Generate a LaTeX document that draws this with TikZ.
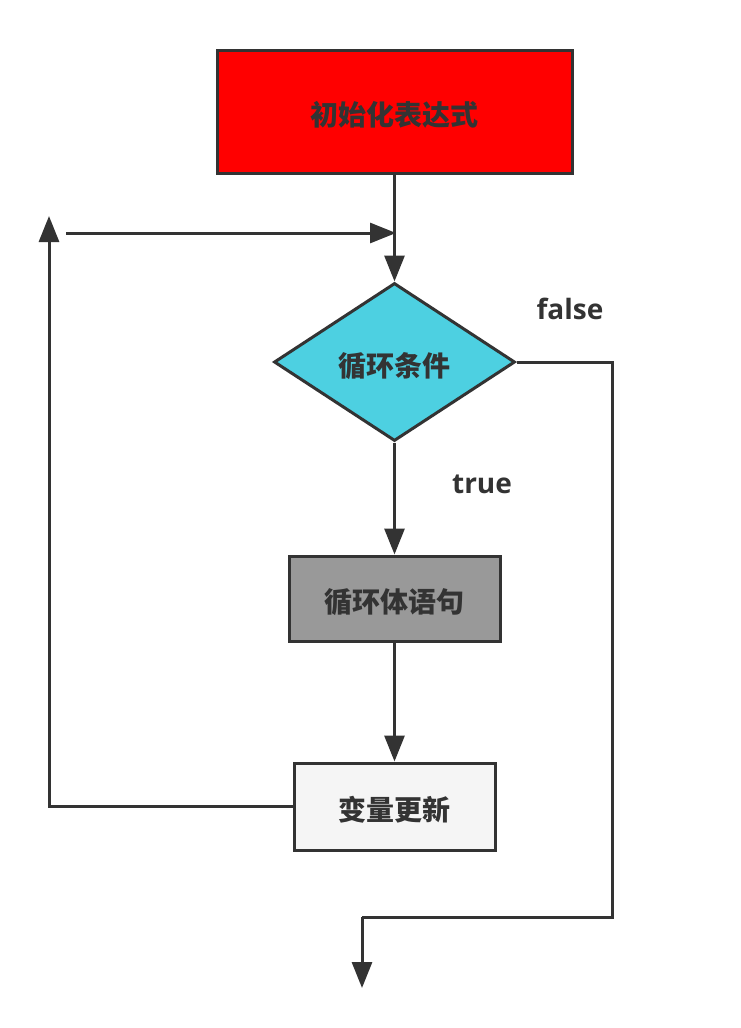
\documentclass[tikz,border=0pt]{standalone}
\usepackage{fontspec}
\setmainfont{Open Sans}
\newfontfamily\cjk{Noto Sans CJK SC}
\usetikzlibrary{arrows.meta,shapes.geometric}
\definecolor{ink}{HTML}{333333}
\definecolor{redfill}{HTML}{FF0000}
\definecolor{cyanfill}{HTML}{4DD0E1}
\definecolor{grayfill}{HTML}{999999}
\definecolor{lightfill}{HTML}{F5F5F5}
\newcommand{\lowered}[1]{\raisebox{-14pt}[0pt][0pt]{#1}}
\tikzset{
  boxnode/.style={draw=ink, line width=3pt, text=ink, inner sep=0pt,
    font=\cjk\bfseries\fontsize{28}{32}\selectfont},
  conn/.style={draw=ink, line width=3pt},
  arr/.style={conn, -{Triangle[length=26pt,width=20pt]}},
  lbl/.style={text=ink, font=\bfseries\fontsize{28}{32}\selectfont, inner sep=0pt},
}
\begin{document}
\begin{tikzpicture}[x=1pt,y=-1pt]
\useasboundingbox (0,0) rectangle (740,1028);
\node[boxnode, fill=redfill, minimum width=355pt, minimum height=123pt] (init) at (394.5,111.5) {\lowered{初始化表达式}};
\node[boxnode, fill=cyanfill, diamond, minimum width=241pt, minimum height=158pt] (cond) at (394.5,362) {\lowered{循环条件}};
\node[boxnode, fill=grayfill, minimum width=211pt, minimum height=85pt] (body) at (394.5,598.5) {\lowered{循环体语句}};
\node[boxnode, fill=lightfill, minimum width=201pt, minimum height=87pt] (upd) at (394.5,806.5) {\lowered{变量更新}};
\node[lbl] (lfalse) at (570,309) {false};
\node[lbl] (ltrue) at (482,484) {true};
\coordinate (loopup) at (49,216);
\coordinate (loopstart) at (66,233);
\coordinate (join) at (396,233);
\coordinate (fr) at (612,362);
\coordinate (fb) at (362,917);
\coordinate (exit) at (362,988);
\draw[arr] (init.south) -- (cond.north);
\draw[arr] (loopstart) -- (join);
\draw[arr] (upd.west) -| (loopup);
\draw[conn] (cond.east) -- (fr) |- (fb);
\draw[arr] (fb) -- (exit);
\draw[arr] (cond.south) -- (body.north);
\draw[arr] (body.south) -- (upd.north);
\end{tikzpicture}
\end{document}
